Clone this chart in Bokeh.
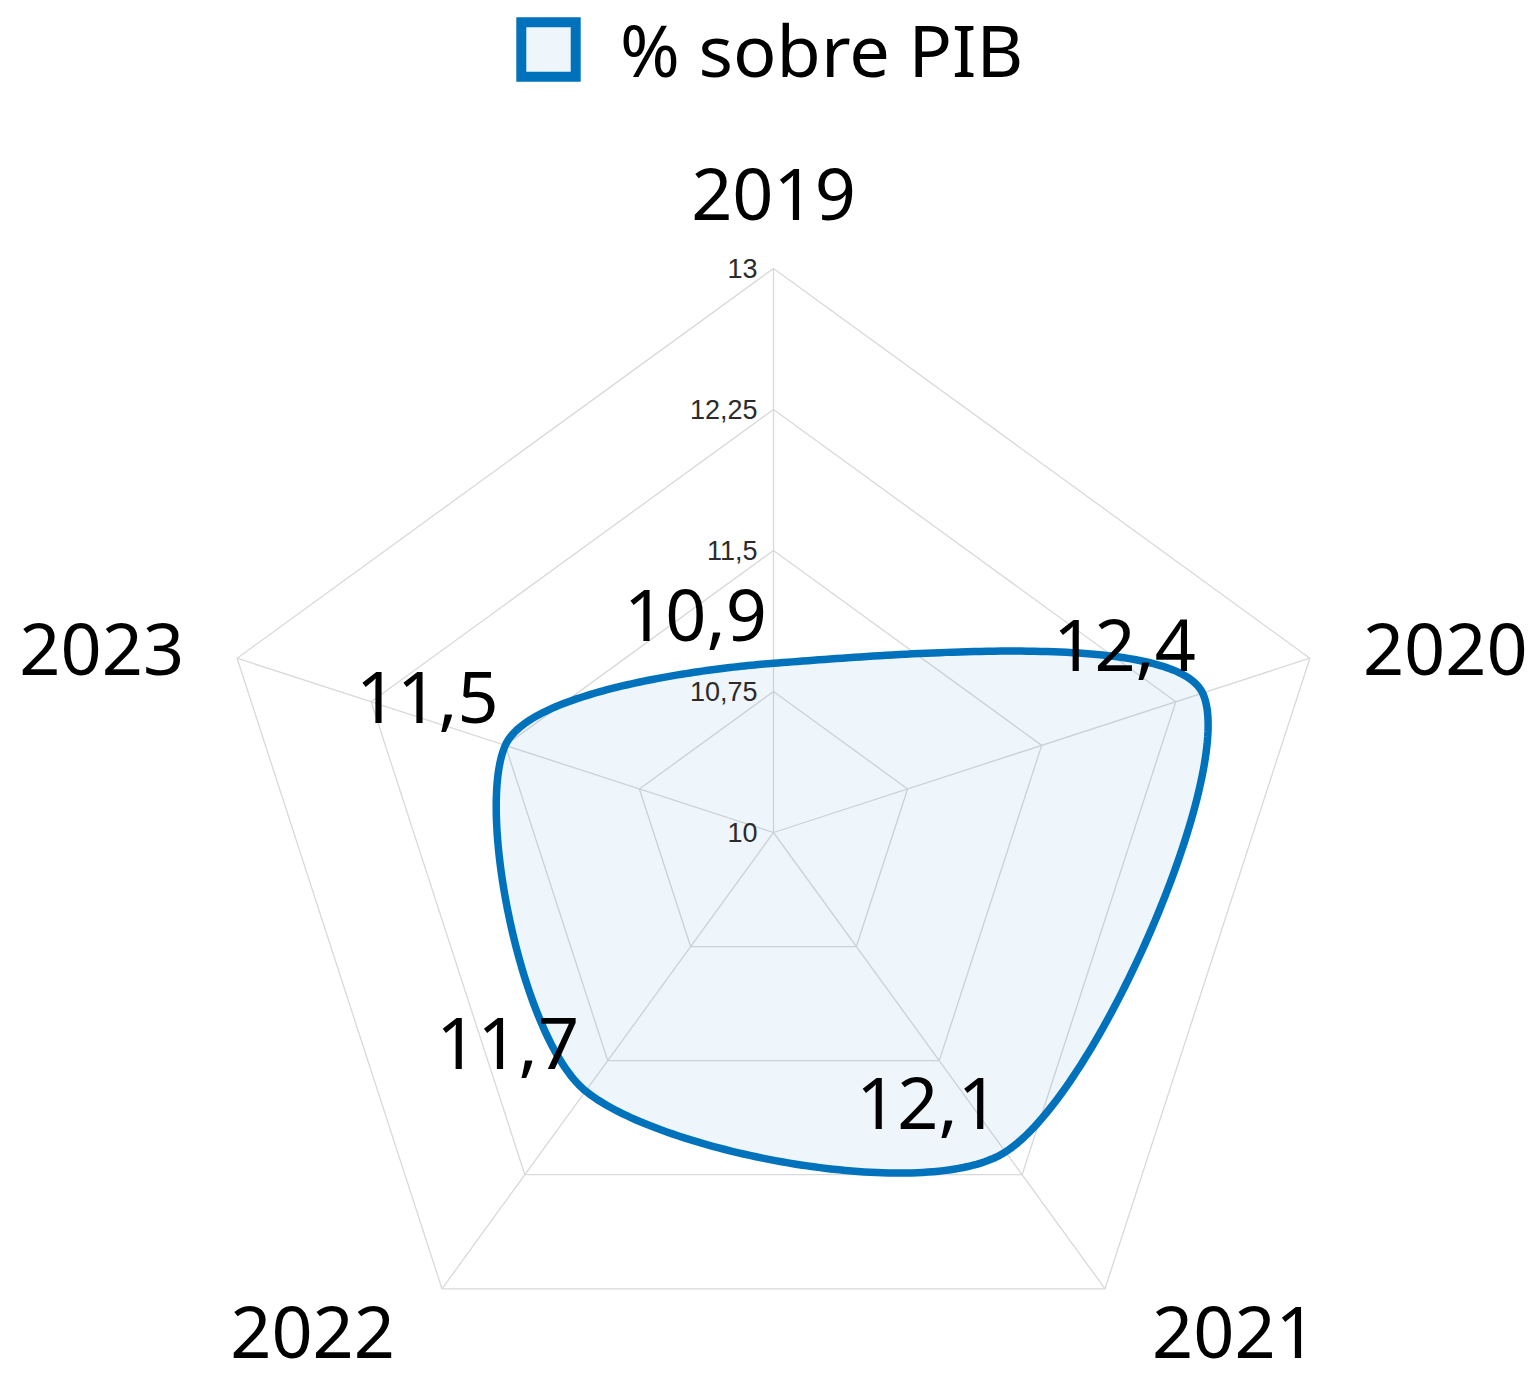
import math
from bokeh.plotting import figure
from bokeh.models import Range1d, ColumnDataSource, Legend, LegendItem
from bokeh.core.properties import value
from bokeh.embed import file_html
from bokeh.resources import INLINE

# ---------------- data ----------------
categories = ["2019", "2020", "2021", "2022", "2023"]
values = [10.9, 12.4, 12.1, 11.7, 11.5]
value_labels = ["10,9", "12,4", "12,1", "11,7", "11,5"]
series_name = "% sobre PIB"
tick_values = [10, 10.75, 11.5, 12.25, 13]
tick_labels = ["10", "10,75", "11,5", "12,25", "13"]

# ---------------- layout / style ----------------
R_MIN, R_MAX = 10.0, 13.0
W, H = 1534, 1380
PX = 188.0            # pixels per value unit
CX, CY = 773.0, 832.0  # centre in canvas pixels
LINE_COLOR = "#0072bc"
GRID_COLOR = "#d9d9d9"
BIG_FONT = "Noto Sans"
BIG_SIZE = "72px"
TENSION = 0.28

n = len(categories)
angles = [2 * math.pi * i / n for i in range(n)]


def polar(v, a):
    r = v - R_MIN
    return r * math.sin(a), r * math.cos(a)


p = figure(width=W, height=H, output_backend="svg", toolbar_location=None,
           x_range=Range1d(-CX / PX, (W - CX) / PX),
           y_range=Range1d(-(H - CY) / PX, CY / PX),
           min_border=0, outline_line_color=None)
p.axis.visible = False
p.grid.visible = False
p.background_fill_color = "white"
p.border_fill_color = "white"

# ---- grid pentagons ----
gxs, gys = [], []
for t in tick_values[1:]:
    ring = [polar(t, a) for a in angles]
    gxs.append([q[0] for q in ring] + [ring[0][0]])
    gys.append([q[1] for q in ring] + [ring[0][1]])
p.multi_line(gxs, gys, line_color=GRID_COLOR, line_width=1.3)

# ---- spokes ----
ends = [polar(R_MAX, a) for a in angles]
p.segment(x0=[0] * n, y0=[0] * n, x1=[e[0] for e in ends], y1=[e[1] for e in ends],
          line_color=GRID_COLOR, line_width=1.3)

# ---- closed spline through data points (tension-based) ----
pts = [polar(v, a) for v, a in zip(values, angles)]
prev_cp, next_cp = [], []
for i in range(n):
    cx_, cy_ = pts[i]
    lx, ly = pts[i - 1]
    nx, ny = pts[(i + 1) % n]
    d01 = math.hypot(cx_ - lx, cy_ - ly)
    d12 = math.hypot(nx - cx_, ny - cy_)
    fa = TENSION * d01 / (d01 + d12)
    fb = TENSION * d12 / (d01 + d12)
    prev_cp.append((cx_ - fa * (nx - lx), cy_ - fa * (ny - ly)))
    next_cp.append((cx_ + fb * (nx - lx), cy_ + fb * (ny - ly)))

sx, sy = [], []
steps = 80
for i in range(n):
    j = (i + 1) % n
    p0, p1, p2, p3 = pts[i], next_cp[i], prev_cp[j], pts[j]
    for k in range(steps):
        t = k / steps
        a = (1 - t) ** 3
        b = 3 * (1 - t) ** 2 * t
        c = 3 * (1 - t) * t ** 2
        d = t ** 3
        sx.append(a * p0[0] + b * p1[0] + c * p2[0] + d * p3[0])
        sy.append(a * p0[1] + b * p1[1] + c * p2[1] + d * p3[1])

p.patch(sx, sy, fill_color=LINE_COLOR, fill_alpha=0.065,
        line_color=LINE_COLOR, line_width=7.5, line_join="round")

# ---- tick labels ----
p.text(x=[0] * len(tick_values), y=[t - R_MIN for t in tick_values], text=tick_labels,
       x_offset=-16, text_align="right", text_baseline="middle",
       text_font=value("Liberation Sans"), text_font_size="27px", text_color="#2b2b2b")

# ---- data labels ----
p.text(x=[q[0] for q in pts], y=[q[1] for q in pts], text=value_labels,
       x_offset=-78, y_offset=-48, text_align="center", text_baseline="middle",
       text_font=value(BIG_FONT), text_font_size=BIG_SIZE, text_color="#000000")

# ---- category labels ----
cat_x, cat_y, cat_align, cat_dx, cat_dy = [], [], [], [], []
for a in angles:
    ex, ey = polar(R_MAX, a)
    cat_x.append(ex)
    cat_y.append(ey)
    s, c = math.sin(a), math.cos(a)
    if c > 0.9:
        cat_dy.append(-74); dxm = 0
    elif c > 0:
        cat_dy.append(-9); dxm = 53
    else:
        cat_dy.append(44); dxm = 47
    if s > 0.1:
        cat_align.append("left"); cat_dx.append(dxm)
    elif s < -0.1:
        cat_align.append("right"); cat_dx.append(-dxm)
    else:
        cat_align.append("center"); cat_dx.append(0)
cat_src = ColumnDataSource(dict(x=cat_x, y=cat_y, text=categories, align=cat_align,
                                dx=cat_dx, dy=cat_dy))
p.text(x="x", y="y", text="text", source=cat_src, x_offset="dx", y_offset="dy",
       text_align="align", text_baseline="middle",
       text_font=value(BIG_FONT), text_font_size=BIG_SIZE, text_color="#000000")

# ---- legend ----
dummy = p.patch(x=[float("nan")], y=[float("nan")], fill_color=LINE_COLOR, fill_alpha=0.065,
                line_color=LINE_COLOR, line_width=10, line_join="miter")
legend = Legend(items=[LegendItem(label=series_name, renderers=[dummy])],
                location=(514, H - 98), orientation="horizontal",
                glyph_width=68, glyph_height=68, label_standoff=38,
                label_text_font=BIG_FONT, label_text_font_size=BIG_SIZE,
                label_text_color="#000000",
                border_line_alpha=0, background_fill_alpha=0,
                padding=0, margin=0, spacing=0)
p.add_layout(legend)

open("out.html", "w").write(file_html(p, INLINE))
